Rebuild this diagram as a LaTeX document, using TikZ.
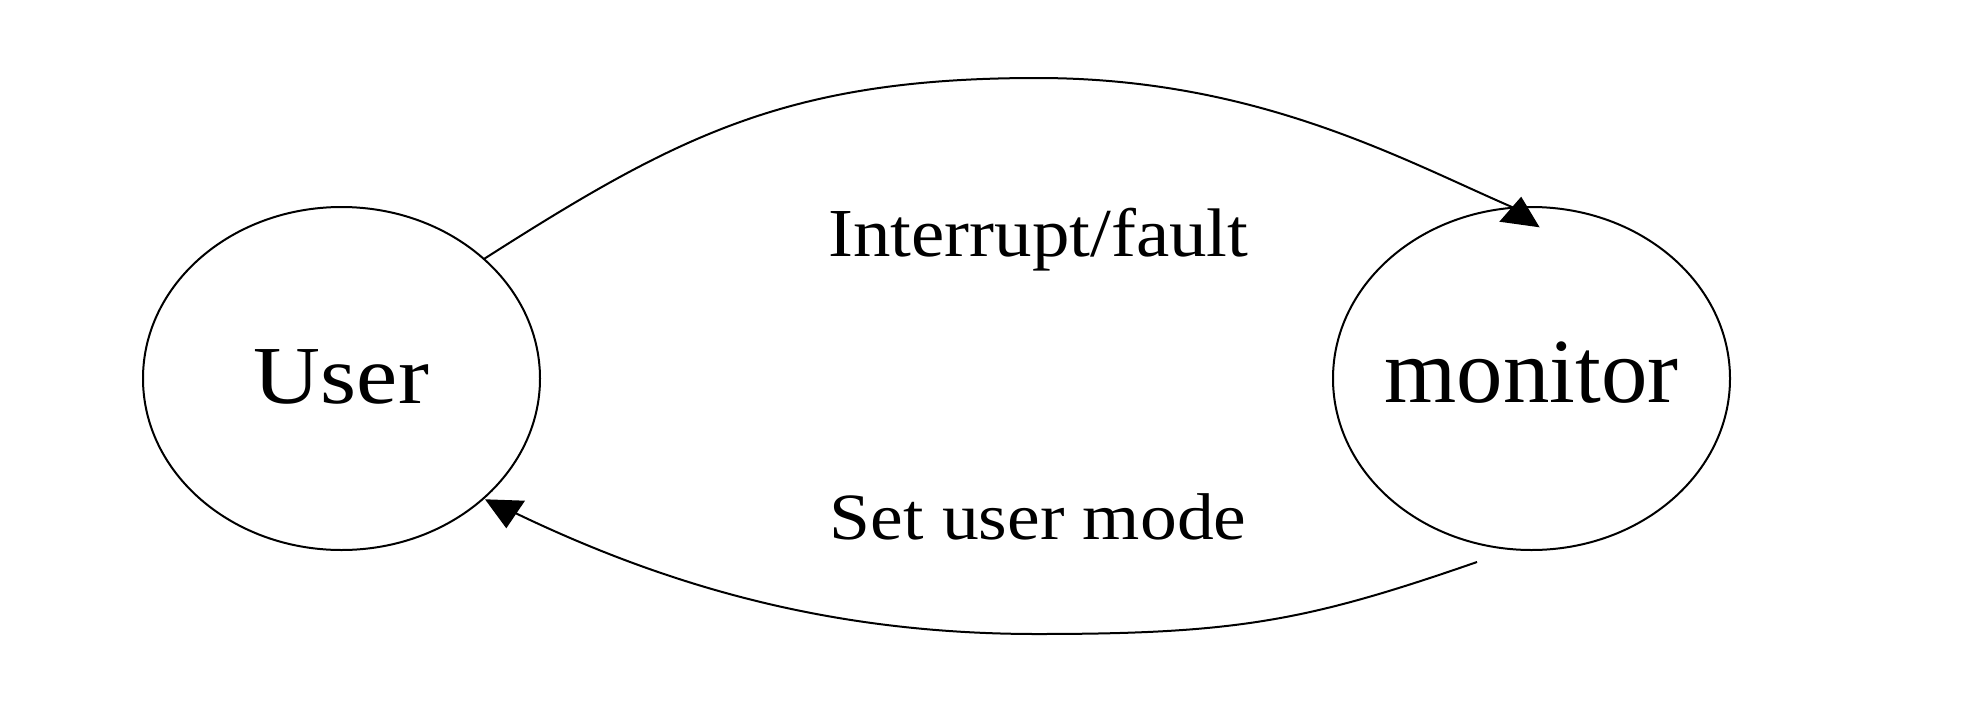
\documentclass[tikz,border=0pt]{standalone}
\usepackage{fontspec}
\setmainfont{Liberation Serif}
\usepackage{graphicx}
\usetikzlibrary{shapes.geometric}
\begin{document}
\begin{tikzpicture}[x=1pt,y=-1pt,
  state/.style={draw, ellipse, line width=2pt, minimum width=397pt, minimum height=343pt, inner xsep=-40pt, inner ysep=0pt, outer sep=0pt, text depth=0pt},
  conn/.style={line width=2pt},
  head/.style={fill=black, draw=none},
  lbl/.style={anchor=base, inner sep=0pt}]
\useasboundingbox (0,0) rectangle (1986,702);
\fill[white] (0,0) rectangle (1986,702);
\node[state, text height=49.6pt] (User) at (341.5,378.5) {\fontsize{82.4}{90}\selectfont\scalebox{1.125}[1]{User}};
\node[state, text height=48.4pt] (monitor) at (1531.5,378.5) {\fontsize{91.7}{100}\selectfont\scalebox{1.012}[1]{monitor}};
\node[lbl] (l1) at (1038.3,256.7) {\fontsize{68.7}{75}\selectfont\scalebox{1.09}[1]{Interrupt/fault}};
\node[lbl] (l2) at (1038,539.3) {\fontsize{66.1}{72}\selectfont\scalebox{1.113}[1]{Set user mode}};
\coordinate (s2) at (1477,562);
\coordinate (e2) at (507,509);
% Interrupt/fault connector
\draw[conn] (User.40.4) .. controls (676.7,136) and (787,78) .. (1037,78)
  .. controls (1257,78) and (1402,159.6) .. (monitor.96.6);
\fill[head] (1521.2,196.7) -- (1499.3,221.7) -- (1539.6,227.3) -- cycle;
% Set user mode connector
\draw[conn] (s2) .. controls (1307,621) and (1237,634) .. (1037,634)
  .. controls (837,634) and (671,589) .. (e2);
\fill[head] (485,499.3) -- (525,500.7) -- (506.3,528.3) -- cycle;
\end{tikzpicture}
\end{document}
